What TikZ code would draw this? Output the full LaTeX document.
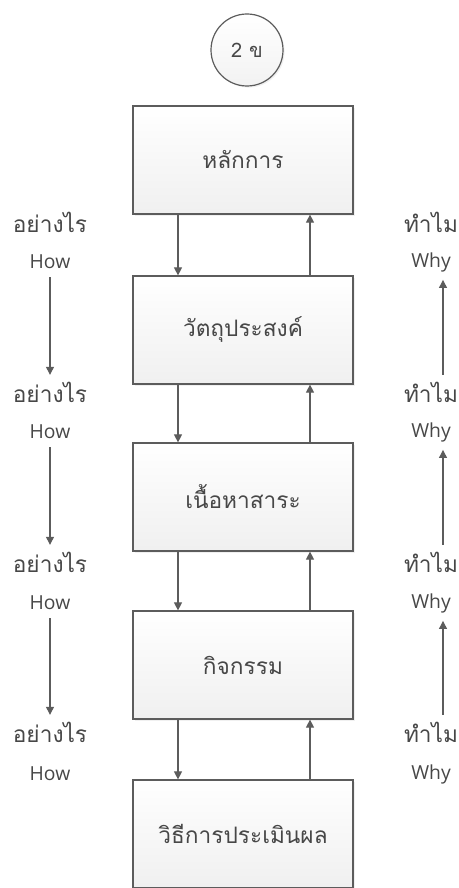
\documentclass[tikz,border=0pt]{standalone}
\usepackage{fontspec}
\setmainfont[Script=Thai]{Loma}
\newfontfamily\howfont{Open Sans}
\usetikzlibrary{arrows.meta,shadows}
\definecolor{edgegray}{HTML}{5C5C5C}
\definecolor{txtgray}{HTML}{474747}
\begin{document}
\begin{tikzpicture}[x=0.75pt, y=-0.75pt, >={Triangle[length=6pt,width=6pt]},
	stepbox/.style={draw=edgegray, line width=0.9pt, top color=white, bottom color=gray!12,
		minimum width=165pt, minimum height=81pt, text=txtgray, font=\fontsize{17}{19}\selectfont,
		drop shadow={opacity=0.12, shadow xshift=1.2pt, shadow yshift=-1.2pt}},
	thlabel/.style={text=txtgray, inner sep=1pt, font=\fontsize{17}{19}\selectfont},
	enlabel/.style={text=txtgray, inner sep=1pt, font=\howfont\fontsize{14.5}{17}\selectfont},
	link/.style={->, draw=edgegray, line width=0.8pt}]
	\useasboundingbox (0,0) rectangle (458,888);
	% topic circle
	\node (topic) [circle, draw=edgegray, line width=0.9pt, top color=white, bottom color=gray!10,
		minimum size=54pt, text=txtgray, font=\fontsize{15}{17}\selectfont,
		drop shadow={opacity=0.12, shadow xshift=1.2pt, shadow yshift=-1.2pt}] at (247,50) {2 ข};
	% main steps
	\node (principle) [stepbox] at (243,160) {หลักการ};
	\node (objective) [stepbox] at (243,330) {วัตถุประสงค์};
	\node (content) [stepbox] at (243,497) {เนื้อหาสาระ};
	\node (activity) [stepbox] at (243,665) {กิจกรรม};
	\node (evaluation) [stepbox] at (243,834) {วิธีการประเมินผล};
	% down and up links between steps
	\draw[link] ([xshift=-48.75pt]principle.south) -- ([xshift=-48.75pt]objective.north);
	\draw[link] ([xshift=-48.75pt]objective.south) -- ([xshift=-48.75pt]content.north);
	\draw[link] ([xshift=-48.75pt]content.south) -- ([xshift=-48.75pt]activity.north);
	\draw[link] ([xshift=-48.75pt]activity.south) -- ([xshift=-48.75pt]evaluation.north);
	\draw[link] ([xshift=50.25pt]objective.north) -- ([xshift=50.25pt]principle.south);
	\draw[link] ([xshift=50.25pt]content.north) -- ([xshift=50.25pt]objective.south);
	\draw[link] ([xshift=50.25pt]activity.north) -- ([xshift=50.25pt]content.south);
	\draw[link] ([xshift=50.25pt]evaluation.north) -- ([xshift=50.25pt]activity.south);
	% how column
	\node (howth1) [thlabel] at (50,222) {อย่างไร};
	\node (how1) [enlabel] at (50,262) {How};
	\node (howth2) [thlabel] at (50,392) {อย่างไร};
	\node (how2) [enlabel] at (50,432) {How};
	\node (howth3) [thlabel] at (50,562) {อย่างไร};
	\node (how3) [enlabel] at (50,603) {How};
	\node (howth4) [thlabel] at (50,732) {อย่างไร};
	\node (how4) [enlabel] at (50,774) {How};
	\draw[link, shorten <=5pt, shorten >=4pt] (how1) -- (howth2);
	\draw[link, shorten <=5pt, shorten >=4pt] (how2) -- (howth3);
	\draw[link, shorten <=5pt, shorten >=4pt] (how3) -- (howth4);
	% why column
	\node (whyth1) [thlabel] at (431,222) {ทำไม};
	\node (why1) [enlabel] at (431,262) {Why};
	\node (whyth2) [thlabel] at (431,392) {ทำไม};
	\node (why2) [enlabel] at (431,432) {Why};
	\node (whyth3) [thlabel] at (431,562) {ทำไม};
	\node (why3) [enlabel] at (431,603) {Why};
	\node (whyth4) [thlabel] at (431,732) {ทำไม};
	\node (why4) [enlabel] at (431,774) {Why};
	\draw[link, shorten <=4pt, shorten >=5pt] ([xshift=9pt]whyth2.north) -- ([xshift=9pt]why1.south);
	\draw[link, shorten <=4pt, shorten >=5pt] ([xshift=9pt]whyth3.north) -- ([xshift=9pt]why2.south);
	\draw[link, shorten <=4pt, shorten >=5pt] ([xshift=9pt]whyth4.north) -- ([xshift=9pt]why3.south);
\end{tikzpicture}
\end{document}
